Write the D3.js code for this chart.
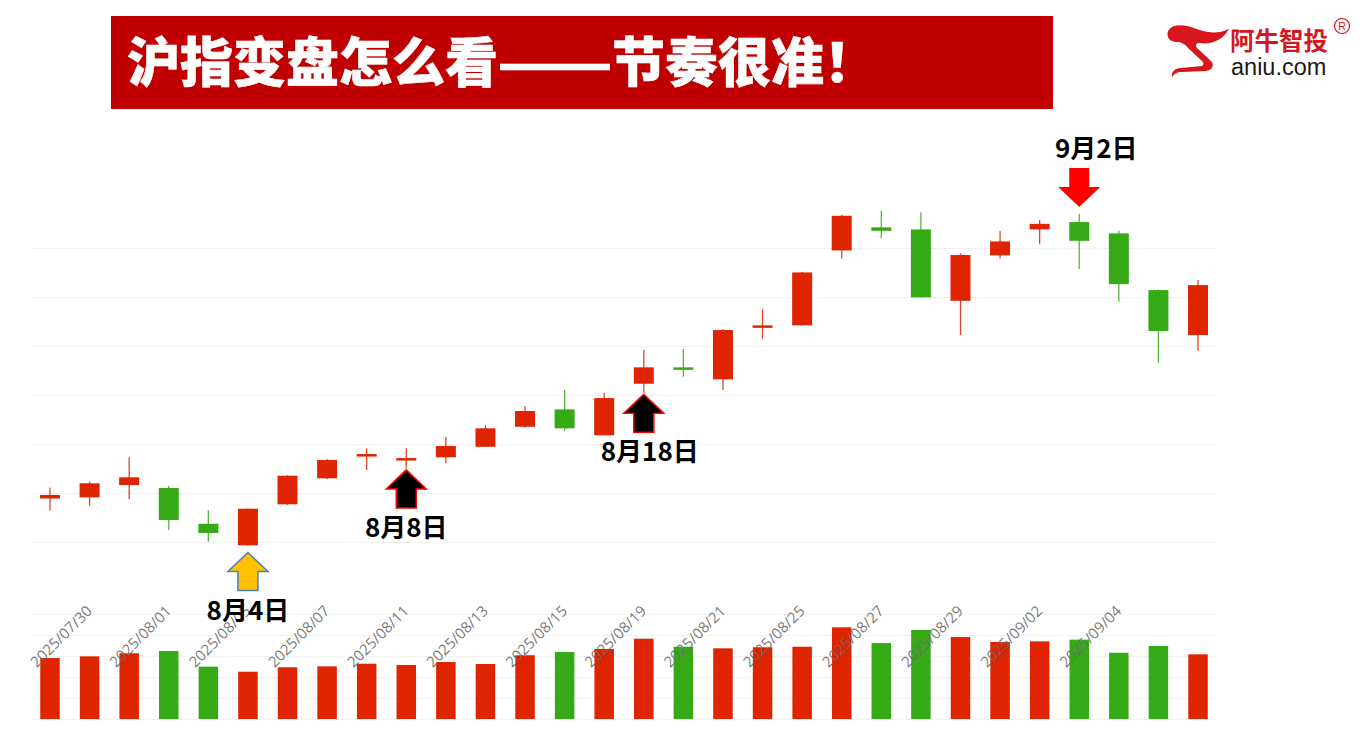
<!DOCTYPE html>
<html>
<head>
<meta charset="utf-8">
<script src="https://cdn.jsdelivr.net/npm/d3@7/dist/d3.min.js"></script>
<style>
  html, body { margin: 0; padding: 0; background: #ffffff; }
  svg { display: block; }
</style>
</head>
<body>
<svg id="chart" width="1364" height="731"></svg>
<script>
// ---------------- DATA ----------------
const dates = ["2025/07/28","2025/07/29","2025/07/30","2025/07/31","2025/08/01",
  "2025/08/04","2025/08/05","2025/08/06","2025/08/07","2025/08/08",
  "2025/08/11","2025/08/12","2025/08/13","2025/08/14","2025/08/15",
  "2025/08/18","2025/08/19","2025/08/20","2025/08/21","2025/08/22",
  "2025/08/25","2025/08/26","2025/08/27","2025/08/28","2025/08/29",
  "2025/09/01","2025/09/02","2025/09/03","2025/09/04","2025/09/05"];
const openV  = [3594.3,3595.5,3608.0,3605.0,3568.6,3546.6,3588.4,3614.9,3637.6,3633.8,
                3636.3,3647.0,3667.4,3685.1,3658.7,3711.2,3727.9,3715.7,3769.2,3770.7,
                3847.0,3870.5,3868.4,3795.7,3842.0,3868.4,3875.9,3864.4,3806.6,3760.8];
const closeV = [3597.9,3609.8,3615.9,3572.4,3559.2,3583.9,3617.5,3633.5,3639.6,3635.5,
                3647.8,3665.8,3683.4,3665.8,3696.6,3727.9,3726.2,3765.9,3770.7,3824.6,
                3882.3,3867.0,3799.2,3842.3,3856.2,3874.1,3856.8,3812.7,3764.9,3811.7];
const highV  = [3605.5,3611.4,3636.3,3607.0,3582.3,3584.2,3618.0,3634.5,3645.4,3645.4,
                3657.2,3669.1,3688.5,3704.8,3702.0,3745.5,3746.5,3767.0,3787.3,3825.0,
                3883.0,3887.8,3886.0,3844.0,3866.7,3877.9,3884.0,3867.4,3807.3,3816.8];
const lowV   = [3582.1,3587.0,3593.8,3562.2,3550.3,3546.4,3587.7,3614.2,3623.3,3625.0,
                3630.1,3647.0,3666.4,3663.3,3658.5,3702.0,3718.3,3704.8,3757.0,3770.5,
                3838.9,3859.3,3799.0,3760.8,3838.9,3853.2,3828.0,3794.7,3732.6,3744.8];
const volumeV = [578,594,623,645,496,448,490,499,524,512,
                 540,521,604,635,664,761,685,670,680,685,
                 869,720,844,777,730,736,752,628,692,613];
const priceTicks  = [3550,3600,3650,3700,3750,3800,3850];
const volumeTicks = [0,200,400,600,800,1000];
const labelDates = ["2025/07/30","2025/08/01","2025/08/05","2025/08/07","2025/08/11",
  "2025/08/13","2025/08/15","2025/08/19","2025/08/21","2025/08/25","2025/08/27",
  "2025/08/29","2025/09/02","2025/09/04"];
const titleParts = ["沪指变盘怎么看", "——", "节奏很准！"];
const notes = [
  {date:"2025/08/04", text:"8月4日",  kind:"upYellow"},
  {date:"2025/08/08", text:"8月8日",  kind:"upBlack"},
  {date:"2025/08/18", text:"8月18日", kind:"upBlack"},
  {date:"2025/09/02", text:"9月2日",  kind:"downRed"}
];

// ---------------- SETUP ----------------
const svg = d3.select("#chart");
const UP = "#de2400", DOWN = "#35aa16";
const candles = dates.map((d,i)=>({date:d, o:openV[i], c:closeV[i], h:highV[i], l:lowV[i], v:volumeV[i]}));

const x = d3.scaleBand().domain(dates).range([30.2, 1217.8]).padding(0);
const cx = d => x(d) + x.bandwidth()/2;
const y = d3.scaleLinear().domain([3550, 3850]).range([542, 247.5]);
const yv = d3.scaleLinear().domain([0, 1000]).range([719, 613.5]);
const bodyW = 20, volW = 19.5;

// ---------------- TITLE ----------------
svg.append("rect").attr("x",111).attr("y",16).attr("width",942).attr("height",93).attr("fill","#c00000");
const titleG = svg.append("g")
  .attr("font-family","'Noto Sans CJK SC', sans-serif").attr("font-weight",900)
  .attr("font-size",53).attr("fill","#ffffff").attr("stroke","#ffffff").attr("stroke-width",0.6);
titleG.append("text").attr("x",127).attr("y",82).attr("textLength",371).attr("lengthAdjust","spacingAndGlyphs").text(titleParts[0]);
titleG.append("text").attr("x",497).attr("y",82).attr("textLength",116).attr("lengthAdjust","spacingAndGlyphs").text(titleParts[1]);
titleG.append("text").attr("x",612).attr("y",82).text(titleParts[2]);

// ---------------- LOGO ----------------
const logo = svg.append("g");
logo.append("path").attr("fill","#d7161d")
  .attr("d","M1168,37 C1165,28 1175,23 1187,26 C1199,29 1212,37 1229,29 C1223,40 1211,45 1200,43 C1196,43 1195,45 1197,48 L1211,61 C1215,66 1212,70 1206,71 L1182,72 C1177,72 1174,74 1172,77 C1171,72 1175,68 1181,68 L1202,66 C1204,65 1204,63 1202,61 L1188,48 C1186,45 1183,43 1179,42 C1172,42 1169,40 1168,37 Z");
logo.append("text").attr("x",1230).attr("y",49.5)
  .attr("font-family","'Noto Sans CJK SC', sans-serif").attr("font-weight",700)
  .attr("font-size",24.5).attr("fill","#d7161d").text("阿牛智投");
logo.append("text").attr("x",1231).attr("y",75)
  .attr("font-family","'Liberation Sans', sans-serif")
  .attr("font-size",23.5).attr("fill","#231815").text("aniu.com");
logo.append("circle").attr("cx",1342).attr("cy",26).attr("r",7.5).attr("fill","none").attr("stroke","#d7161d").attr("stroke-width",1.2);
logo.append("text").attr("x",1342).attr("y",30).attr("text-anchor","middle")
  .attr("font-family","'Liberation Sans', sans-serif").attr("font-size",10.5).attr("fill","#d7161d").text("R");

// ---------------- GRID ----------------
svg.append("g").selectAll("line").data(priceTicks).join("line")
  .attr("x1",32).attr("x2",1215).attr("y1",d=>Math.round(y(d))+0.5).attr("y2",d=>Math.round(y(d))+0.5)
  .attr("stroke","#f0f0f0").attr("stroke-width",1);
svg.append("g").selectAll("line").data(volumeTicks).join("line")
  .attr("x1",32).attr("x2",1215).attr("y1",d=>Math.round(yv(d))+0.5).attr("y2",d=>Math.round(yv(d))+0.5)
  .attr("stroke","#f2f2f2").attr("stroke-width",1);

// ---------------- VOLUME ----------------
svg.append("g").selectAll("rect").data(candles).join("rect")
  .attr("x",d=>cx(d.date)-volW/2).attr("width",volW)
  .attr("y",d=>yv(d.v)).attr("height",d=>yv(0)-yv(d.v))
  .attr("fill",d=>d.c>=d.o?UP:DOWN);

// ---------------- X LABELS ----------------
svg.append("g").selectAll("text").data(labelDates).join("text")
  .attr("transform",d=>`translate(${cx(d)-36},612) rotate(-45)`)
  .attr("text-anchor","end")
  .attr("font-family","'Open Sans', sans-serif").attr("font-size",15)
  .attr("fill","#6a6a6a").attr("fill-opacity",0.9).text(d=>d);

// ---------------- CANDLES ----------------
const cg = svg.append("g").selectAll("g").data(candles).join("g");
cg.append("line")
  .attr("x1",d=>cx(d.date)).attr("x2",d=>cx(d.date))
  .attr("y1",d=>y(d.h)).attr("y2",d=>y(d.l))
  .attr("stroke",d=>d.c>=d.o?UP:DOWN).attr("stroke-width",1.3).attr("stroke-opacity",0.85);
cg.append("rect")
  .attr("x",d=>cx(d.date)-bodyW/2).attr("width",bodyW)
  .attr("y",d=>y(Math.max(d.o,d.c)))
  .attr("height",d=>Math.max(2.5, Math.abs(y(d.o)-y(d.c))))
  .attr("fill",d=>d.c>=d.o?UP:DOWN);

// ---------------- ANNOTATIONS ----------------
const byDate = Object.fromEntries(candles.map(c=>[c.date,c]));
const ann = svg.append("g");
notes.forEach(n=>{
  const c = byDate[n.date];
  const px = cx(n.date);
  if (n.kind === "downRed") {
    const tip = y(c.h) - 7;
    const path = d3.path();
    path.moveTo(px, tip);
    path.lineTo(px-21, tip-20); path.lineTo(px-10, tip-20); path.lineTo(px-10, tip-39);
    path.lineTo(px+10, tip-39); path.lineTo(px+10, tip-20); path.lineTo(px+21, tip-20); path.closePath();
    ann.append("path").attr("d",path.toString()).attr("fill","#ff0000");
    ann.append("text").attr("x",px+17).attr("y",tip-49).attr("text-anchor","middle")
      .attr("font-family","'Noto Sans CJK SC', sans-serif").attr("font-weight",700)
      .attr("font-size",26).attr("fill","#000").text(n.text);
  } else {
    const yellow = n.kind === "upYellow";
    const tip = y(c.l) + (yellow ? 7 : 1.5);
    const path = d3.path();
    path.moveTo(px, tip);
    path.lineTo(px+20, tip+19); path.lineTo(px+10, tip+19); path.lineTo(px+10, tip+38);
    path.lineTo(px-10, tip+38); path.lineTo(px-10, tip+19); path.lineTo(px-20, tip+19); path.closePath();
    ann.append("path").attr("d",path.toString())
      .attr("fill", yellow ? "#ffc000" : "#000000")
      .attr("stroke", yellow ? "#4a7ebb" : "#ff0000").attr("stroke-width",1.5)
      .attr("stroke-linejoin","miter");
    ann.append("text").attr("x",px + (n.text.length>4?6:0)).attr("y",tip+67).attr("text-anchor","middle")
      .attr("font-family","'Noto Sans CJK SC', sans-serif").attr("font-weight",700)
      .attr("font-size",26).attr("fill","#000").text(n.text);
  }
});
</script>
</body>
</html>
